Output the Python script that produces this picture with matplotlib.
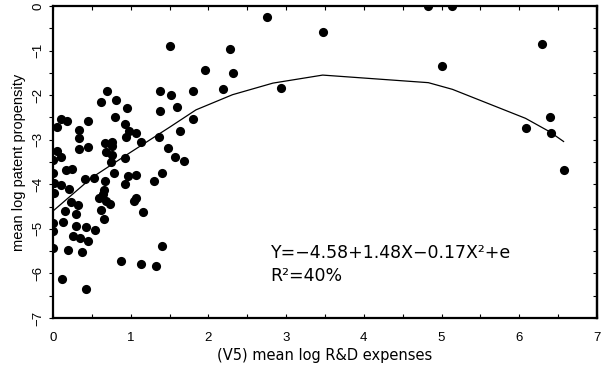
import matplotlib
matplotlib.use("Agg")
import matplotlib.pyplot as plt
import numpy as np
from matplotlib.ticker import MultipleLocator

# ---- data ----
rd_expenses = [
    1.50, 1.38, 1.52, 1.80, 0.70, 0.62, 0.81, 0.95, 1.38, 1.60,
    0.80, 0.10, 0.18, 0.45, 0.05, 0.34, 0.93, 0.98, 1.07, 1.80,
    1.64, 1.37, 0.34, 0.94, 1.13, 0.67, 0.76, 0.76, 0.05, 0.34,
    0.45, 0.68, 0.10, 0.76, 0.93, 1.48, 1.57, 1.68, 0.75, 0.00,
    0.17, 0.24, 0.79, 0.00, 0.97, 1.07, 1.40, 0.41, 0.53, 0.67,
    0.66, 0.93, 1.30, 0.01, 0.10, 0.21, 0.01, 0.64, 0.59, 0.68,
    0.73, 1.07, 1.04, 0.23, 0.32, 0.15, 0.62, 1.16, 0.30, 0.00,
    0.13, 0.30, 0.43, 0.66, 0.54, 0.00, 0.26, 0.35, 0.45, 0.00,
    0.19, 0.37, 1.40, 0.88, 1.13, 1.33, 0.12, 0.43,
    2.76, 3.47, 2.28, 1.96, 2.32, 2.19, 2.93, 4.83, 5.14, 6.29,
    5.00, 6.39, 6.08, 6.41, 6.57,
]
patent_propensity = [
    -0.90, -1.91, -2.00, -1.91, -1.91, -2.15, -2.11, -2.29, -2.36, -2.27,
    -2.49, -2.54, -2.58, -2.58, -2.72, -2.78, -2.65, -2.81, -2.85, -2.54,
    -2.81, -2.94, -2.96, -2.94, -3.05, -3.07, -3.05, -3.14, -3.25, -3.21,
    -3.16, -3.28, -3.39, -3.34, -3.41, -3.19, -3.39, -3.48, -3.50, -3.46,
    -3.68, -3.66, -3.75, -3.75, -3.81, -3.79, -3.75, -3.88, -3.86, -3.93,
    -4.13, -3.99, -3.93, -3.97, -4.02, -4.11, -4.20, -4.22, -4.31, -4.38,
    -4.44, -4.31, -4.38, -4.40, -4.47, -4.60, -4.58, -4.62, -4.67, -4.87,
    -4.85, -4.94, -4.96, -4.78, -5.03, -5.05, -5.16, -5.21, -5.27, -5.43,
    -5.48, -5.52, -5.39, -5.72, -5.79, -5.83, -6.13, -6.35,
    -0.25, -0.58, -0.96, -1.44, -1.50, -1.86, -1.84, 0.00, 0.00, -0.85,
    -1.35, -2.49, -2.74, -2.85, -3.68,
]
fit_x = [0.00, 0.50, 1.00, 1.50, 1.84, 2.31, 2.83, 3.47, 4.83, 5.14, 6.08, 6.39, 6.57]
fit_y = [-4.60, -3.85, -3.28, -2.72, -2.33, -1.99, -1.73, -1.55, -1.72, -1.87, -2.52, -2.82, -3.04]

x_ticks = [0, 1, 2, 3, 4, 5, 6, 7]
y_ticks = [0, -1, -2, -3, -4, -5, -6, -7]

equation = "Y=\u22124.58+1.48X\u22120.17X\u00b2+e"
r_squared = "R\u00b2=40%"

# ---- figure ----
fig = plt.figure(figsize=(6.02, 3.65), dpi=100)
ax = fig.add_axes([53/602, 1-318/365, (597-53)/602, (318-6)/365])

ax.plot(rd_expenses, patent_propensity, 'o', color='black', markersize=6.6,
        markeredgewidth=0, clip_on=True)
ax.plot(fit_x, fit_y, '-', color='black', linewidth=0.9)

ax.set_xlim(0, 7)
ax.set_ylim(-7, 0)
ax.xaxis.set_minor_locator(MultipleLocator(0.5))
ax.yaxis.set_minor_locator(MultipleLocator(0.5))
ax.set_xticks(x_ticks)
ax.set_yticks(y_ticks)
ax.set_xticklabels([str(v) for v in x_ticks])
ax.set_yticklabels([str(v).replace('-', '\u2212') for v in y_ticks], rotation=90, va='center')

for s in ax.spines.values():
    s.set_linewidth(1.6)

ax.tick_params(axis='x', which='both', direction='in', top=True, bottom=True,
               length=3, width=0.8, labelsize=9.5, pad=10)
ax.tick_params(axis='y', which='both', direction='out', left=True, right=False,
               length=3, width=0.8, labelsize=9.5, pad=3)
# right side ticks inward
sec = ax.secondary_yaxis('right')
sec.yaxis.set_major_locator(MultipleLocator(0.5))
sec.tick_params(direction='in', length=3, width=0.8, labelright=False)
sec.spines['right'].set_linewidth(1.6)

for lab in ax.get_xticklabels() + ax.get_yticklabels():
    lab.set_fontfamily('Liberation Sans')

ax.set_ylabel("mean log patent propensity", fontsize=10.5, family='Liberation Sans', labelpad=5)
ax.set_xlabel("(V5) mean log R&D expenses", fontsize=10.5, family='DejaVu Sans', labelpad=3)

ax.text(2.80, -5.54, equation, fontsize=12.5, va='center', ha='left', family='DejaVu Sans')
ax.text(2.80, -6.06, r_squared, fontsize=12.5, va='center', ha='left', family='DejaVu Sans')

fig.savefig("out.png", dpi=100)
